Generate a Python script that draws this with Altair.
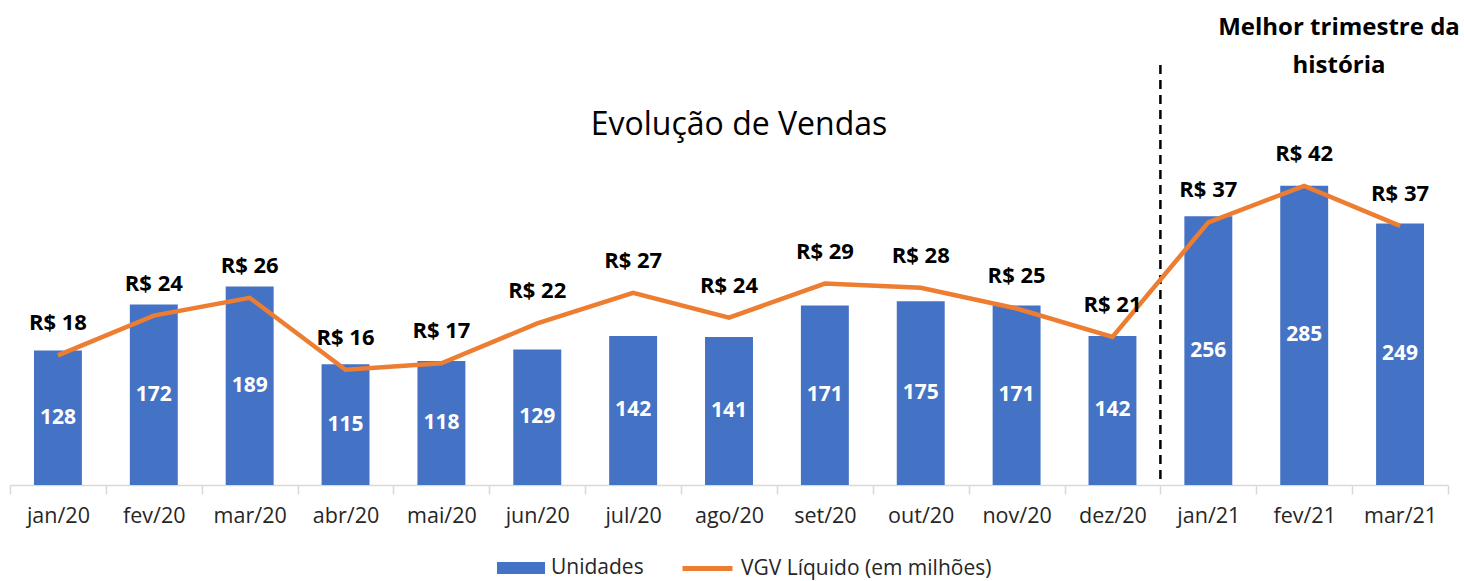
import altair as alt
import pandas as pd

meses = ["jan/20", "fev/20", "mar/20", "abr/20", "mai/20", "jun/20", "jul/20", "ago/20",
         "set/20", "out/20", "nov/20", "dez/20", "jan/21", "fev/21", "mar/21"]
unidades = [128, 172, 189, 115, 118, 129, 142, 141, 171, 175, 171, 142, 256, 285, 249]
vgv = [18.2, 23.8, 26.3, 16.2, 17.1, 22.7, 27.0, 23.5, 28.3, 27.7, 24.8, 20.8, 36.9, 42.0, 36.4]
vgv_rotulos = ["R$ 18", "R$ 24", "R$ 26", "R$ 16", "R$ 17", "R$ 22", "R$ 27", "R$ 24",
               "R$ 29", "R$ 28", "R$ 25", "R$ 21", "R$ 37", "R$ 42", "R$ 37"]
corte = ["jan/21"]

df = pd.DataFrame({"mes": meses, "unidades": unidades, "vgv": vgv, "rotulo": vgv_rotulos,
                   "serie_b": "Unidades", "serie_l": "VGV Líquido (em milhões)"})
df_corte = pd.DataFrame({"mes": corte})

FONT = "Open Sans"
BLUE = "#4472C4"
ORANGE = "#ED7D31"

x = alt.X("mes:N", sort=meses,
          scale=alt.Scale(paddingInner=0, paddingOuter=0),
          axis=alt.Axis(title=None, labelAngle=0, labelFont=FONT, labelFontSize=21.5,
                        labelColor="#262626", labelPadding=11, domainColor="#D9D9D9",
                        domainWidth=1.5, tickColor="#D9D9D9", tickWidth=1.5, tickSize=9,
                        tickBand="extent", grid=False))

yb = alt.Scale(domain=[0, 400], nice=False)
yl = alt.Scale(domain=[0, 59], nice=False)

base = alt.Chart(df)

bars = base.mark_bar(width={"band": 0.5}).encode(
    x=x,
    y=alt.Y("unidades:Q", scale=yb, axis=None),
    color=alt.Color("serie_b:N", scale=alt.Scale(range=[BLUE]),
                    legend=alt.Legend(title=None, orient="none", legendX=487, legendY=479,
                                      labelFont=FONT, labelFontSize=21, labelColor="#262626",
                                      labelOffset=6,
                                      symbolType="M-1,-0.25H1V0.25H-1Z", symbolSize=2304,
                                      symbolStrokeWidth=0, symbolOpacity=1)),
)

bar_text = base.transform_calculate(meio="datum.unidades / 2").mark_text(
    font=FONT, fontSize=21, fontWeight="bold", color="white", baseline="middle"
).encode(
    x=alt.X("mes:N", sort=meses),
    y=alt.Y("meio:Q", scale=yb, axis=None),
    text="unidades:Q",
)

line = base.mark_line(strokeWidth=4.5, strokeJoin="miter").encode(
    x=alt.X("mes:N", sort=meses),
    y=alt.Y("vgv:Q", scale=yl, axis=None),
    stroke=alt.Stroke("serie_l:N", scale=alt.Scale(range=[ORANGE]),
                      legend=alt.Legend(title=None, orient="none", legendX=670, legendY=476,
                                        labelFont=FONT, labelFontSize=21, labelColor="#262626",
                                        labelOffset=6,
                                        symbolType="stroke", symbolSize=2500,
                                        symbolStrokeWidth=5)),
)

line_text = base.mark_text(
    font=FONT, fontSize=22, fontWeight="bold", color="black", baseline="middle", dy=-32
).encode(
    x=alt.X("mes:N", sort=meses),
    y=alt.Y("vgv:Q", scale=yl, axis=None),
    text="rotulo:N",
)

rule = alt.Chart(df_corte).mark_rule(color="black", strokeWidth=2.5, strokeDash=[9, 6]).encode(
    x=alt.X("mes:N", sort=meses, bandPosition=0),
)

nota = alt.Chart(pd.DataFrame({"t": [["Melhor trimestre da", "história"]]})).mark_text(
    font=FONT, fontSize=24, fontWeight="bold", color="black", align="center",
    baseline="middle", lineHeight=38
).encode(x=alt.value(1329), y=alt.value(-37), text="t")

chart = alt.layer(bars, bar_text, rule, line, line_text, nota).resolve_scale(
    y="independent", color="independent"
).properties(
    width=1438, height=420,
    title=alt.TitleParams("Evolução de Vendas", font=FONT, fontSize=32, fontWeight="normal",
                          color="black", anchor="middle", dx=10, dy=130),
    autosize=alt.AutoSizeParams(type="none"),
    padding={"left": 10, "top": 65, "right": 16, "bottom": 96},
).configure_view(stroke=None).configure_legend(labelLimit=400)

chart.save("out.html", embed_options={"renderer": "svg", "actions": False})
